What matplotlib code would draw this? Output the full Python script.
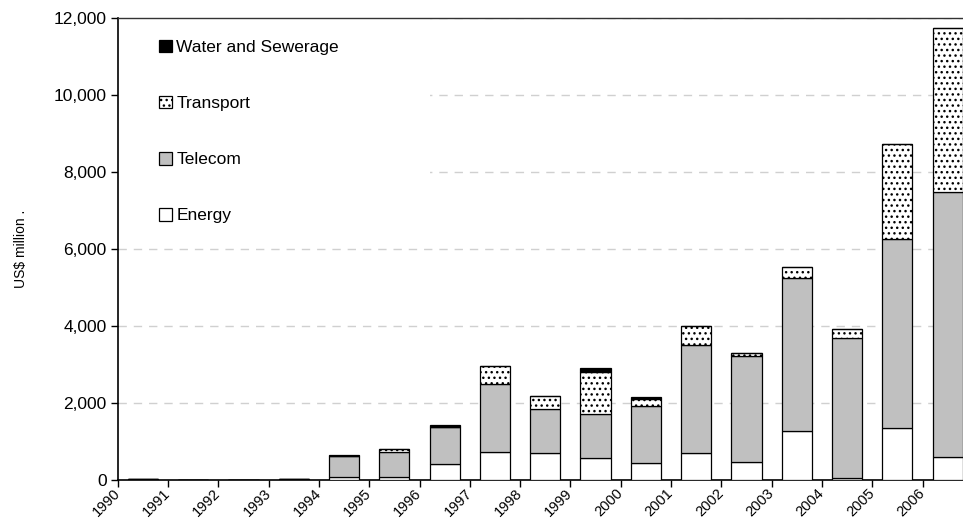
import matplotlib
matplotlib.use("Agg")
import matplotlib.pyplot as plt
import matplotlib.transforms as mtransforms
from matplotlib.patches import Rectangle
import numpy as np

plt.rcParams['font.family'] = ['Liberation Sans', 'DejaVu Sans']
plt.rcParams['hatch.linewidth'] = 1.0

years = [str(y) for y in range(1990, 2007)]
energy = [30, 0, 0, 30, 75, 75, 415, 735, 705, 580, 450, 700, 475, 1280, 50, 1360, 605]
telecom = [0, 0, 0, 0, 565, 670, 960, 1760, 1147, 1146, 1472, 2806, 2745, 3983, 3636, 4910, 6891]
transport = [0, 0, 0, 0, 0, 70, 0, 483, 338, 1084, 190, 502, 78, 285, 234, 2459, 4244]
water = [0, 0, 0, 0, 15, 0, 52, 0, 0, 99, 44, 0, 0, 0, 0, 0, 0]

fig = plt.figure(figsize=(9.63, 5.32), dpi=100)
ax = fig.add_axes([117.7 / 963, (532 - 480.3) / 532, 17 * 50.3 / 963, (480.3 - 18) / 532])

x = np.arange(len(years)) + 0.5
w = 0.6
e = np.array(energy, float)
t = np.array(telecom, float)
tr = np.array(transport, float)
wa = np.array(water, float)

kw = dict(width=w, edgecolor='black', linewidth=0.9, zorder=3)
b_en = ax.bar(x, e, color='white', label='Energy', **kw)
b_te = ax.bar(x, t, bottom=e, color='#C0C0C0', label='Telecom', **kw)
b_tr = ax.bar(x, tr, bottom=e + t, color='white', hatch='...', label='Transport', **kw)
b_wa = ax.bar(x, wa, bottom=e + t + tr, color='black', label='Water and Sewerage', **kw)

ax.set_xlim(0, len(years))
ax.set_ylim(0, 12000)
ax.set_yticks(np.arange(0, 12001, 2000))
ax.yaxis.set_major_formatter(matplotlib.ticker.FuncFormatter(lambda v, p: f"{int(v):,}"))
ax.set_xticks(np.arange(len(years)))
ax.set_xticklabels(years, rotation=45, ha='right', va='center', rotation_mode='anchor',
                   fontsize=10.5)
offset = mtransforms.ScaledTranslation(6 / 100, 0, fig.dpi_scale_trans)
for lab in ax.get_xticklabels():
    lab.set_transform(lab.get_transform() + offset)

ax.tick_params(axis='both', direction='out', length=5, width=1, colors='black')
ax.tick_params(axis='y', pad=3, labelsize=12.5)
ax.tick_params(axis='x', pad=3)

ax.set_axisbelow(True)
ax.yaxis.grid(True, linestyle=(0, (6, 5)), color='#D0D0D0', linewidth=1)
ax.add_patch(Rectangle((0, (480.3 - 235) / 462.3), (430 - 117.7) / (17 * 50.3),
                       (235 - 18) / 462.3, transform=ax.transAxes,
                       facecolor='white', edgecolor='none', zorder=1))

for s in ['left', 'bottom']:
    ax.spines[s].set_color('black')
    ax.spines[s].set_linewidth(1.2)
ax.spines['top'].set_color('#333333')
ax.spines['top'].set_linewidth(1.0)
ax.spines['right'].set_visible(False)

ax.set_ylabel('US$ million .', fontsize=10)
ax.yaxis.set_label_coords(-0.1046, 0.5)

handles = [b_wa, b_tr, b_te, b_en]
labels = ['Water and Sewerage', 'Transport', 'Telecom', 'Energy']
leg = ax.legend(handles, labels, loc='upper left', bbox_to_anchor=(0.04, 0.968),
                frameon=False, fontsize=12.5, handlelength=0.75, handleheight=0.75,
                handletextpad=0.25, labelspacing=2.34, borderaxespad=0)

fig.savefig('out.png', dpi=100)
